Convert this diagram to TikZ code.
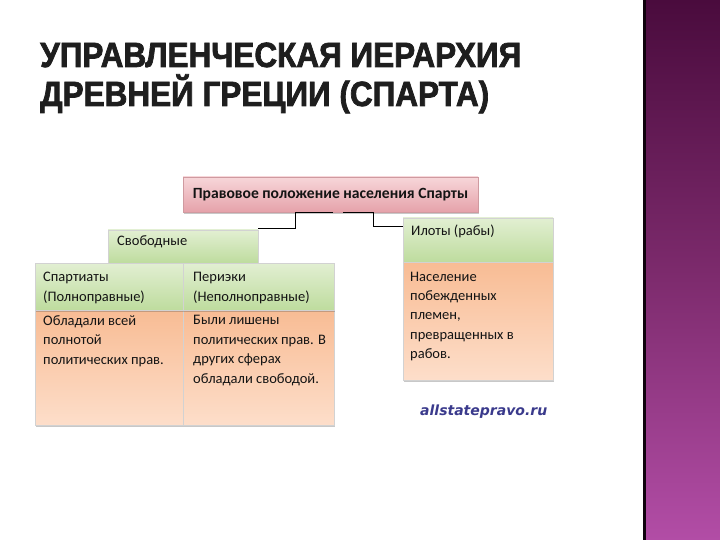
\documentclass[tikz,border=0pt]{standalone}
\usepackage{fontspec}
\setmainfont{Carlito}
\newfontfamily\titlefont[FakeStretch=0.9, BoldFont={Liberation Sans Bold}, BoldFeatures={FakeBold=2}]{Liberation Sans}
\newfontfamily\sitefont{DejaVu Sans}
\usetikzlibrary{shadows}
\definecolor{titlecol}{HTML}{1E1E1E}
\definecolor{grtop}{HTML}{E2EFD2}
\definecolor{grbot}{HTML}{BEDC9E}
\definecolor{ortop}{HTML}{F8BC94}
\definecolor{orbot}{HTML}{FDDECA}
\definecolor{pktop}{HTML}{F7D6D9}
\definecolor{pkbot}{HTML}{E5A2AA}
\definecolor{pkline}{HTML}{CF9AA0}
\definecolor{boxline}{HTML}{D2D2D2}
\definecolor{purtop}{HTML}{4A0B3D}
\definecolor{purmid}{HTML}{7C2A6C}
\definecolor{purbot}{HTML}{B24DA6}
\definecolor{linkcol}{HTML}{3A3A8C}
\tikzset{
  shadowed/.style={drop shadow={shadow xshift=1.2pt, shadow yshift=-1.8pt, opacity=0.3, fill=black!70}},
  gbox/.style={shadowed, draw=boxline, line width=0.6pt, top color=grtop, bottom color=grbot, inner sep=0pt},
  obox/.style={shadowed, draw=boxline, line width=0.6pt, top color=ortop, bottom color=orbot, inner sep=0pt},
  pbox/.style={shadowed, draw=pkline, line width=0.6pt, top color=pktop, bottom color=pkbot, inner sep=0pt},
  txt/.style={anchor=north west, inner sep=0pt, align=left, text=black!92, font=\fontsize{14.5}{19.5}\selectfont},
  link/.style={draw=black, line width=0.9pt},
  titletxt/.style={anchor=base west, inner sep=0pt, text=titlecol, font=\titlefont\bfseries\fontsize{35}{38}\selectfont}
}
\begin{document}
\begin{tikzpicture}[x=1pt, y=-1pt]
\useasboundingbox (0,0) rectangle (720,540);
\fill[white] (0,0) rectangle (720,540);
% purple side bar
\node[anchor=north west, inner sep=0pt, minimum width=77pt, minimum height=540pt,
      top color=purtop, bottom color=purbot, middle color=purmid] (bar) at (643,0) {};
\fill[black!80!purtop] (bar.north west) rectangle ([xshift=2.5pt]bar.south west);
% title
\node[titletxt] (t1) at (40,67) {УПРАВЛЕНЧЕСКАЯ ИЕРАРХИЯ};
\node[titletxt] (t2) at (40,106) {ДРЕВНЕЙ ГРЕЦИИ (СПАРТА)};
% boxes
\node[pbox, minimum width=295pt, minimum height=35pt, text=black!92,
      font=\bfseries\fontsize{15.6}{17}\selectfont] (top) at (330.5,194.5) {Правовое положение населения Спарты};
\node[gbox, minimum width=150pt, minimum height=44pt] (ilot) at (478,240) {};
\node[obox, minimum width=150pt, minimum height=118pt] (nasel) at (478,321) {};
\node[gbox, minimum width=150pt, minimum height=33pt] (svob) at (183,246.5) {};
\node[obox, minimum width=148pt, minimum height=115pt] (spartd) at (109,367.5) {};
\node[obox, minimum width=151pt, minimum height=115pt] (perid) at (258.5,367.5) {};
\node[gbox, minimum width=148pt, minimum height=47pt] (spart) at (109,286.5) {};
\node[gbox, minimum width=151pt, minimum height=47pt] (peri) at (258.5,286.5) {};
% connectors
\draw[link] ([xshift=2.5pt]top.south) -- ([xshift=-35.5pt]top.south) |- ([yshift=1pt]svob.north east);
\draw[link] ([xshift=12.5pt]top.south) -- ([xshift=42.5pt]top.south) |- ([yshift=-9pt]ilot.north west);
% texts
\node[txt] (tsvob) at (117,235) {Свободные};
\node[txt] (tspart) at (43,272) {Спартиаты\\(Полноправные)};
\node[txt] (tperi) at (193,272) {Периэки\\(Неполноправные)};
\node[txt] (tspartd) at (43,315) {Обладали всей\\полнотой\\политических прав.};
\node[txt] (tperid) at (193,315) {Были лишены\\политических прав. В\\других сферах\\обладали свободой.};
\node[txt] (tilot) at (411,225) {Илоты (рабы)};
\node[txt, font=\fontsize{14.5}{19.2}\selectfont] (tnasel) at (410,272) {Население\\побежденных\\племен,\\превращенных в\\рабов.};
\node[anchor=west, inner sep=0pt, text=linkcol, font=\sitefont\bfseries\itshape\fontsize{14}{16}\selectfont] (site) at (420,412) {allstatepravo.ru};
\end{tikzpicture}
\end{document}
